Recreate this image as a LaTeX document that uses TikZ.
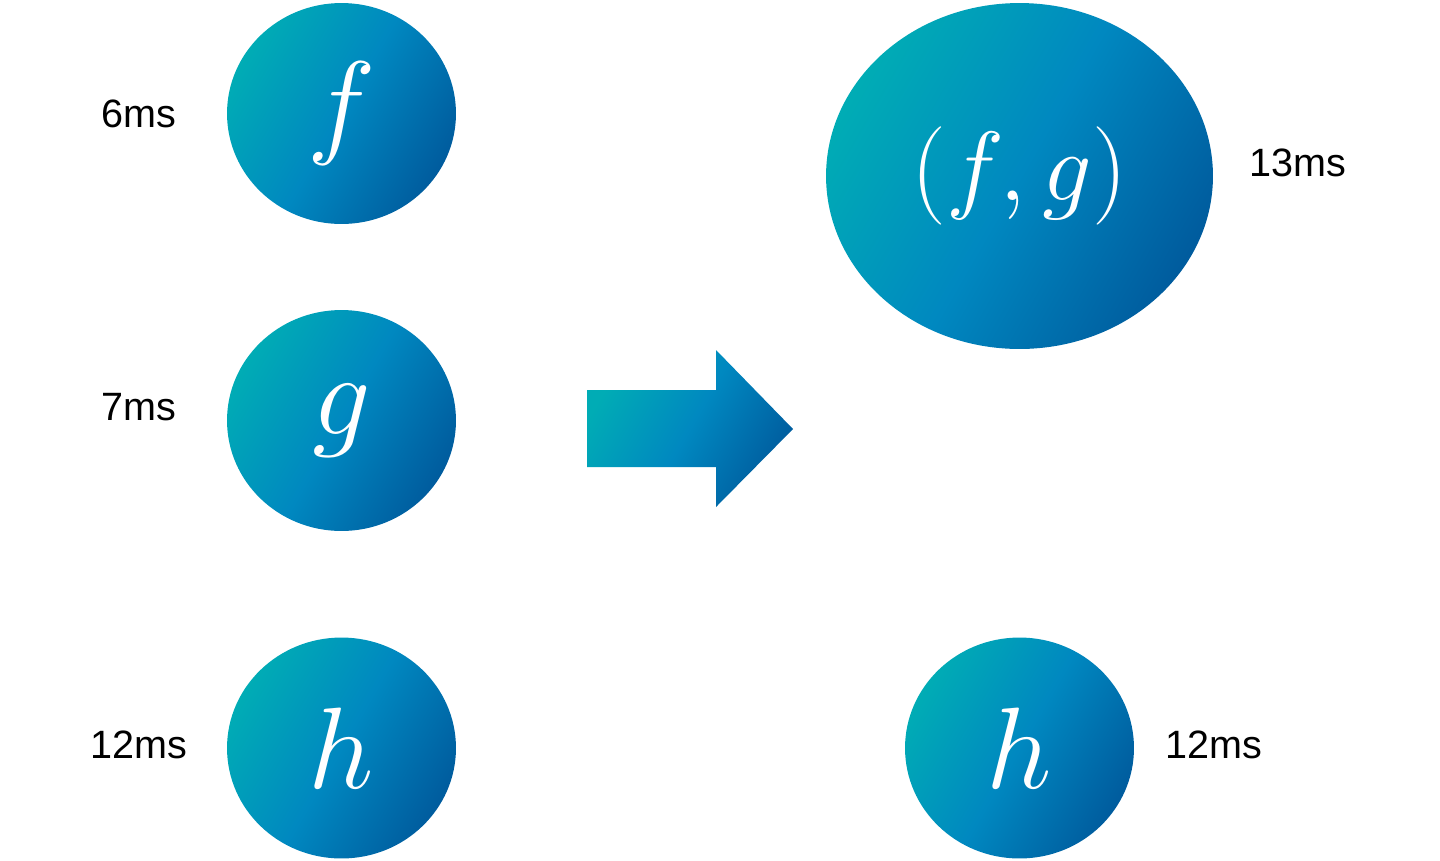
\RequirePackage{fix-cm}
\documentclass[tikz,border=0pt]{standalone}
\usepackage{fontspec}
\setsansfont{Liberation Sans}
\usepackage{tikz}
\usetikzlibrary{positioning, shapes.geometric}

\definecolor{fillteal}{HTML}{00ACB5}
\definecolor{fillblue}{HTML}{0088C0}
\definecolor{filldark}{HTML}{005C9E}

\begin{document}
\begin{tikzpicture}[
  x=0.02cm, y=-0.02cm,
  grad/.style={top color=fillteal, bottom color=filldark, middle color=fillblue, shading angle=60},
  fun/.style={ellipse, grad, inner sep=0pt, minimum width=4.58cm, minimum height=4.42cm,
    text=white, font=\fontsize{66}{66}\selectfont},
  pair/.style={fun, minimum width=7.74cm, minimum height=6.92cm, font=\fontsize{56}{56}\selectfont},
  time/.style={inner sep=0pt, font=\sffamily\fontsize{22.5}{26}\selectfont}
]
\useasboundingbox (0,0) rectangle (1440,860);

% functions before
\node[fun] (f) at (341.5,113.5) {$f$};
\node[fun] (g) at (341.5,420.5) {$g$};
\node[fun] (h) at (341.5,748) {$h$};

% functions after
\node[pair] (fg) at (1019.5,176) {$(f,g)$};
\node[fun] (h2) at (1019.5,748) {$h$};

% run times
\node[time, left=1cm of f] (tf) {6ms};
\node[time, left=1cm of g, yshift=0.27cm] (tg) {7ms};
\node[time, left=0.78cm of h, yshift=0.06cm] (th) {12ms};
\node[time, right=0.72cm of fg, yshift=0.26cm] (tfg) {13ms};
\node[time, right=0.62cm of h2, yshift=0.06cm] (th2) {12ms};

% merge arrow
\path[grad] (587,390) -- (716,390) -- (716,350) -- (793,429) -- (716,507)
  -- (716,467) -- (587,467) -- cycle;
\end{tikzpicture}
\end{document}
